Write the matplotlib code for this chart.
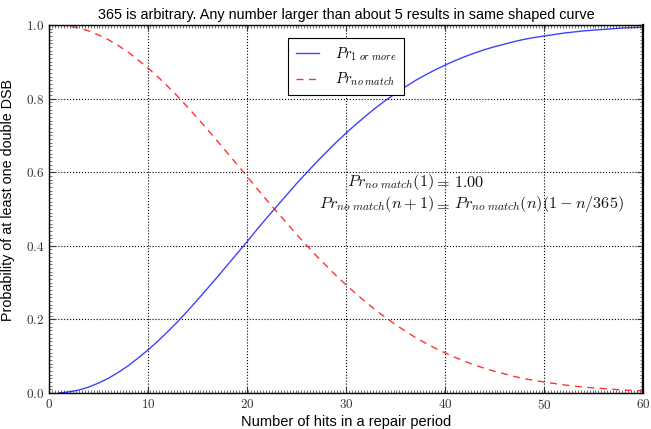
import matplotlib
matplotlib.use("Agg")
import matplotlib.pyplot as plt
from matplotlib.ticker import MultipleLocator, FuncFormatter

plt.rcParams['mathtext.fontset'] = 'cm'

n_hits = list(range(1, 61))
pr_no_match = [1.000, 0.997, 0.992, 0.984, 0.973, 0.960, 0.944, 0.926, 0.905, 0.883,
               0.859, 0.833, 0.806, 0.777, 0.747, 0.716, 0.685, 0.653, 0.621, 0.589,
               0.556, 0.524, 0.493, 0.462, 0.431, 0.402, 0.373, 0.346, 0.319, 0.294,
               0.270, 0.247, 0.225, 0.205, 0.186, 0.168, 0.151, 0.136, 0.122, 0.109,
               0.097, 0.086, 0.076, 0.067, 0.059, 0.052, 0.045, 0.039, 0.034, 0.030,
               0.026, 0.022, 0.019, 0.016, 0.014, 0.012, 0.010, 0.008, 0.007, 0.006]
pr_one_or_more = [0.000, 0.003, 0.008, 0.016, 0.027, 0.040, 0.056, 0.074, 0.095, 0.117,
                  0.141, 0.167, 0.194, 0.223, 0.253, 0.284, 0.315, 0.347, 0.379, 0.411,
                  0.444, 0.476, 0.507, 0.538, 0.569, 0.598, 0.627, 0.654, 0.681, 0.706,
                  0.730, 0.753, 0.775, 0.795, 0.814, 0.832, 0.849, 0.864, 0.878, 0.891,
                  0.903, 0.914, 0.924, 0.933, 0.941, 0.948, 0.955, 0.961, 0.966, 0.970,
                  0.974, 0.978, 0.981, 0.984, 0.986, 0.988, 0.990, 0.992, 0.993, 0.994]

title = "365 is arbitrary. Any number larger than about 5 results in same shaped curve"
xlabel = "Number of hits in a repair period"
ylabel = "Probability of at least one double DSB"

fig = plt.figure(figsize=(6.51, 4.29), dpi=100)
ax = fig.add_axes([49/651, 1-393/429, (643-49)/651, (393-25)/429])

ax.plot(n_hits, pr_one_or_more, color='#0000ff', lw=1.0, alpha=0.75,
        label=r'$Pr_{1\ or\ more}$')
ax.plot(n_hits, pr_no_match, color='#ff0000', lw=1.0, ls=(0, (5, 4)), alpha=0.8,
        label=r'$Pr_{no\ match}$')

ax.set_xlim(0, 60)
ax.set_ylim(0, 1)
ax.xaxis.set_major_locator(MultipleLocator(10))
ax.xaxis.set_minor_locator(MultipleLocator(0.3))
ax.yaxis.set_major_locator(MultipleLocator(0.2))
ax.yaxis.set_minor_locator(MultipleLocator(0.01))
ax.xaxis.set_major_formatter(FuncFormatter(lambda v, p: r'$%d$' % round(v)))
ax.yaxis.set_major_formatter(FuncFormatter(lambda v, p: r'$%.1f$' % v))
ax.tick_params(which='both', direction='in', top=True, right=True, colors='#333333',
               labelcolor='#333333', labelsize=9.5)
ax.tick_params(which='major', length=4, width=0.8)
ax.tick_params(which='minor', length=2, width=0.5)
ax.grid(True, which='major', color='black', ls=':', lw=0.8)
for s in ax.spines.values():
    s.set_linewidth(1.0)
ax.spines['right'].set_linewidth(1.6)

sans = ['Liberation Sans', 'DejaVu Sans']
ax.set_title(title, fontsize=10.4, family=sans, pad=4)
ax.set_xlabel(xlabel, fontsize=10.5, family=sans, labelpad=2)
ax.set_ylabel(ylabel, fontsize=10.3, family=sans)
ax.yaxis.set_label_coords(-0.057, 0.524)

leg = ax.legend(loc='upper center', bbox_to_anchor=(0.5, 0.985), fontsize=10.5,
                fancybox=False, framealpha=1, edgecolor='black', handlelength=1.6,
                handletextpad=1.1, borderpad=0.5, labelspacing=0.55)
leg.get_frame().set_linewidth(0.8)

rows = [(r'$Pr_{no\ match}(1)$', r'$1.00$', 0.573),
        (r'$Pr_{no\ match}(n+1)$', r'$Pr_{no\ match}(n)(1-n/365)$', 0.513)]
for left, right, yy in rows:
    ax.text(38.9, yy, left, ha='right', va='center', fontsize=11.7, color='#111111')
    ax.text(39.7, yy, r'$=$', ha='center', va='center', fontsize=11.7, color='#111111')
    ax.text(40.9, yy, right, ha='left', va='center', fontsize=11.7, color='#111111')

fig.savefig('out.png', dpi=100)
